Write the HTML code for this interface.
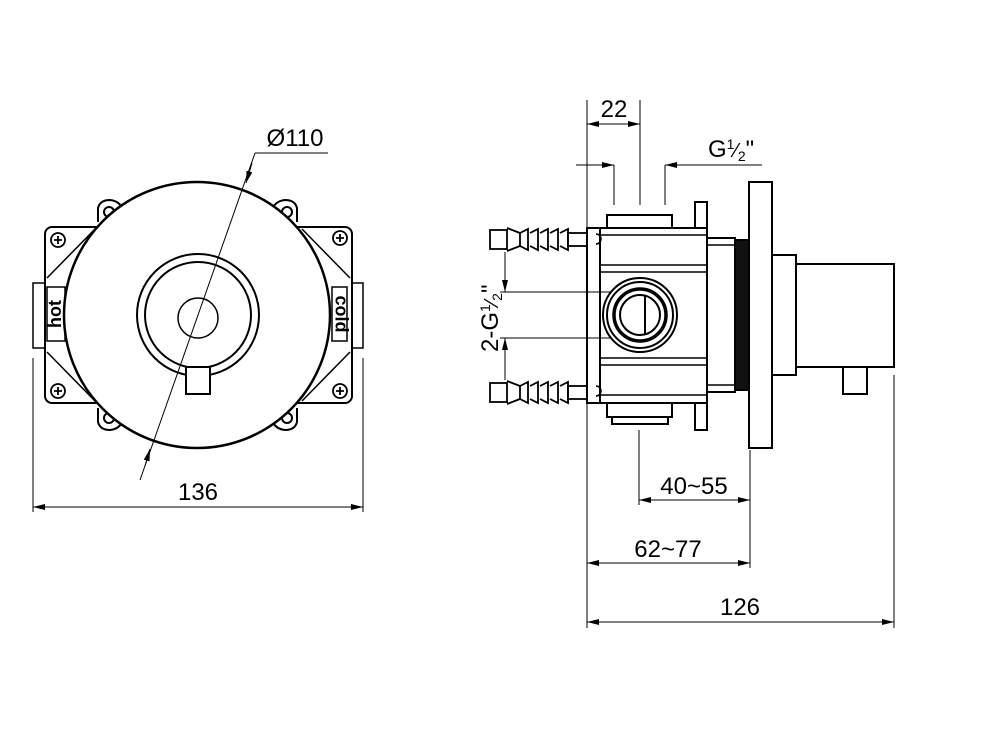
<!DOCTYPE html>
<html><head><meta charset="utf-8"><style>
html,body{margin:0;padding:0;background:#fff;}
svg{display:block;}
text{font-family:"Liberation Sans",sans-serif;fill:#000;}
</style></head><body>
<svg width="1003" height="752" viewBox="0 0 1003 752" xmlns="http://www.w3.org/2000/svg">
<defs>
<marker id="a" viewBox="0 0 12 6" refX="12" refY="3" markerWidth="12" markerHeight="6" orient="auto" markerUnits="userSpaceOnUse"><path d="M0,0 L12,3 L0,6 z" fill="#000"/></marker>
</defs>
<g fill="none" stroke="#000" stroke-width="2">
<rect x="45" y="227" width="307" height="176" rx="7"/>
<line x1="47" y1="278" x2="95" y2="229" stroke-width="1.5"/>
<line x1="47" y1="352" x2="95" y2="401" stroke-width="1.5"/>
<line x1="350" y1="278" x2="302" y2="229" stroke-width="1.5"/>
<line x1="350" y1="352" x2="302" y2="401" stroke-width="1.5"/>
<path d="M98,222 L98,208 Q100,200 110,200 Q120,201 123,210"/>
<circle cx="109" cy="212" r="5"/>
<path d="M297,222 L297,208 Q295,200 285,200 Q275,201 272,210"/>
<circle cx="287" cy="212" r="5"/>
<path d="M98,408 L98,422 Q100,430 110,430 Q120,429 123,420"/>
<circle cx="109" cy="418" r="5"/>
<path d="M297,408 L297,422 Q295,430 285,430 Q275,429 272,420"/>
<circle cx="287" cy="418" r="5"/>
<g stroke-width="1.8">
<circle cx="58" cy="240" r="7"/><path d="M54,240h8M58,236v8"/>
<circle cx="340" cy="238" r="7"/><path d="M336,238h8M340,234v8"/>
<circle cx="58" cy="391" r="7"/><path d="M54,391h8M58,387v8"/>
<circle cx="340" cy="391" r="7"/><path d="M336,391h8M340,387v8"/>
</g>
<rect x="33" y="283" width="12" height="65" stroke-width="1.5"/>
<rect x="47" y="287" width="18" height="54" stroke-width="1.5"/>
<rect x="352" y="283" width="11" height="65" stroke-width="1.5"/>
<rect x="332" y="287" width="15" height="54" stroke-width="1.5"/>
<circle cx="197" cy="315" r="133" fill="#fff" stroke-width="2.5"/>
<circle cx="198" cy="315" r="61"/>
<circle cx="198" cy="315" r="53"/>
<circle cx="198" cy="318" r="20" stroke-width="1.5"/>
<rect x="186" y="367" width="24" height="27" fill="#fff"/>
<line x1="140" y1="480" x2="255" y2="153" stroke-width="1"/>
<line x1="255" y1="153" x2="328" y2="153" stroke-width="1"/>
<line x1="252" y1="163" x2="246" y2="183" stroke-width="1" marker-end="url(#a)"/>
<line x1="145" y1="466" x2="150" y2="449" stroke-width="1" marker-end="url(#a)"/>
<line x1="33" y1="358" x2="33" y2="512" stroke-width="1"/>
<line x1="363" y1="358" x2="363" y2="512" stroke-width="1"/>
<line x1="60" y1="507" x2="33" y2="507" stroke-width="1" marker-end="url(#a)"/>
<line x1="60" y1="507" x2="363" y2="507" stroke-width="1" marker-end="url(#a)"/>

<g stroke-width="1.8">
<rect x="490" y="230" width="17" height="19"/>
<path d="M507,228 L520,233 L520,246 L507,251"/>
<path d="M520,233 l8,-4 v21 l-8,-4 M530,233 l8,-4 v21 l-8,-4 M540,233 l8,-4 v21 l-8,-4 M550,233 l8,-4 v21 l-8,-4 M560,233 l8,-4 v21 l-8,-4"/>
<rect x="568" y="233" width="19" height="13"/>
<rect x="490" y="383" width="17" height="19"/>
<path d="M507,381 L520,386 L520,399 L507,404"/>
<path d="M520,386 l8,-4 v21 l-8,-4 M530,386 l8,-4 v21 l-8,-4 M540,386 l8,-4 v21 l-8,-4 M550,386 l8,-4 v21 l-8,-4 M560,386 l8,-4 v21 l-8,-4"/>
<rect x="568" y="386" width="19" height="13"/>
</g>
<rect x="587" y="228" width="13" height="175"/>
<path d="M596,234 a4,4 0 0 1 0,10 M596,386 a4,4 0 0 1 0,10" stroke-width="1.5"/>
<rect x="600" y="228" width="107" height="175"/>
<path d="M600,235 H707 M600,265 H707 M600,272 H707 M600,358 H707 M600,365 H707 M600,395 H707" stroke-width="1.5"/>
<rect x="607" y="215" width="65" height="13"/>
<rect x="607" y="403" width="65" height="14"/>
<rect x="612" y="417" width="56" height="7"/>
<rect x="695" y="202" width="12" height="26"/>
<rect x="695" y="403" width="12" height="27"/>
<circle cx="640" cy="315" r="37" fill="#fff"/>
<circle cx="640" cy="315" r="33"/>
<circle cx="640" cy="315" r="26" stroke-width="3.5"/>
<circle cx="640" cy="315" r="20"/>
<line x1="645" y1="296" x2="645" y2="334"/>
<rect x="707" y="238" width="28" height="154"/>
<path d="M707,245 H735 M707,385 H735" stroke-width="1.5"/>
<rect x="735" y="240" width="15" height="150" fill="#111"/>
<rect x="749" y="182" width="23" height="266" fill="#fff"/>
<rect x="772" y="255" width="24" height="120"/>
<rect x="796" y="264" width="98" height="103"/>
<rect x="843" y="367" width="24" height="27"/>
<line x1="500" y1="292" x2="612" y2="292" stroke-width="1"/>
<line x1="500" y1="338" x2="612" y2="338" stroke-width="1"/>
<line x1="505" y1="252" x2="505" y2="292" stroke-width="1" marker-end="url(#a)"/>
<line x1="505" y1="380" x2="505" y2="338" stroke-width="1" marker-end="url(#a)"/>
<line x1="587" y1="100" x2="587" y2="228" stroke-width="1"/>
<line x1="640" y1="100" x2="640" y2="205" stroke-width="1"/>
<line x1="614" y1="165" x2="614" y2="205" stroke-width="1"/>
<line x1="665" y1="165" x2="665" y2="205" stroke-width="1"/>
<line x1="613" y1="124" x2="587" y2="124" stroke-width="1" marker-end="url(#a)"/>
<line x1="613" y1="124" x2="640" y2="124" stroke-width="1" marker-end="url(#a)"/>
<line x1="576" y1="165" x2="614" y2="165" stroke-width="1" marker-end="url(#a)"/>
<line x1="762" y1="165" x2="665" y2="165" stroke-width="1" marker-end="url(#a)"/>
<line x1="587" y1="403" x2="587" y2="628" stroke-width="1"/>
<line x1="639" y1="430" x2="639" y2="505" stroke-width="1"/>
<line x1="750" y1="450" x2="750" y2="568" stroke-width="1"/>
<line x1="894" y1="375" x2="894" y2="628" stroke-width="1"/>
<line x1="694" y1="500" x2="639" y2="500" stroke-width="1" marker-end="url(#a)"/>
<line x1="694" y1="500" x2="750" y2="500" stroke-width="1" marker-end="url(#a)"/>
<line x1="668" y1="563" x2="587" y2="563" stroke-width="1" marker-end="url(#a)"/>
<line x1="668" y1="563" x2="750" y2="563" stroke-width="1" marker-end="url(#a)"/>
<line x1="740" y1="622" x2="587" y2="622" stroke-width="1" marker-end="url(#a)"/>
<line x1="740" y1="622" x2="894" y2="622" stroke-width="1" marker-end="url(#a)"/>
</g>
<text x="56" y="314" font-size="18" font-weight="bold" transform="rotate(-90 56 314)" text-anchor="middle" dominant-baseline="middle">hot</text>
<text x="340" y="314" font-size="18" font-weight="bold" transform="rotate(90 340 314)" text-anchor="middle" dominant-baseline="middle">cold</text>
<text x="295" y="146" font-size="24" text-anchor="middle">Ø110</text>
<text x="198" y="500" font-size="24" text-anchor="middle">136</text>
<text x="614" y="117" font-size="24" text-anchor="middle">22</text>
<text x="708" y="157" font-size="24">G<tspan font-size="14" dy="-8">1</tspan><tspan font-size="20" dy="8">⁄</tspan><tspan font-size="14" dy="4">2</tspan><tspan dy="-4">"</tspan></text>
<text x="0" y="0" font-size="24" transform="translate(498 352) rotate(-90)">2-G<tspan font-size="14" dy="-8">1</tspan><tspan font-size="20" dy="8">⁄</tspan><tspan font-size="14" dy="4">2</tspan><tspan dy="-4">"</tspan></text>
<text x="694" y="494" font-size="24" text-anchor="middle">40~55</text>
<text x="668" y="557" font-size="24" text-anchor="middle">62~77</text>
<text x="740" y="615" font-size="24" text-anchor="middle">126</text>
</svg>
</body></html>
